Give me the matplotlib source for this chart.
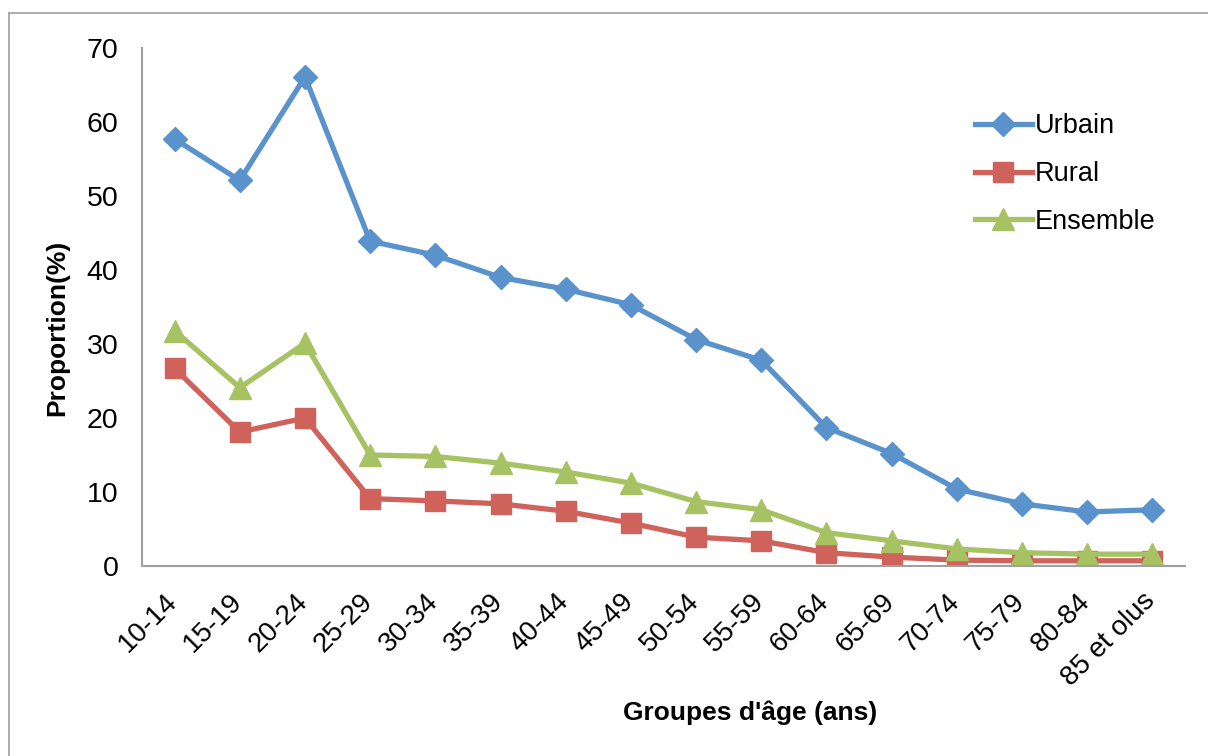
import matplotlib

matplotlib.use('Agg')
import matplotlib.pyplot as plt
from matplotlib.lines import Line2D
from matplotlib.transforms import ScaledTranslation

plt.rcParams['font.family'] = ['Liberation Sans', 'DejaVu Sans']

groupes = ['10-14', '15-19', '20-24', '25-29', '30-34', '35-39', '40-44', '45-49',
           '50-54', '55-59', '60-64', '65-69', '70-74', '75-79', '80-84', '85 et olus']
urbain = [57.7, 52.1, 66.1, 43.9, 42.0, 39.0, 37.4, 35.3,
          30.6, 27.8, 18.7, 15.2, 10.4, 8.4, 7.3, 7.6]
rural = [26.7, 18.1, 20.0, 9.1, 8.8, 8.4, 7.4, 5.8,
         3.9, 3.4, 1.8, 1.2, 0.8, 0.7, 0.7, 0.7]
ensemble = [31.8, 24.1, 30.1, 15.0, 14.8, 13.9, 12.7, 11.2,
            8.7, 7.6, 4.5, 3.4, 2.3, 1.8, 1.6, 1.6]
yticks = [0, 10, 20, 30, 40, 50, 60, 70]

W, H = 1208, 756
fig = plt.figure(figsize=(W / 100, H / 100), dpi=100)
fig.patch.set_facecolor('white')

# cadre extérieur du graphique
fig.add_artist(Line2D([9 / W, 9 / W], [0, 1 - 13 / H], color='#a6a6a6', lw=1.3))
fig.add_artist(Line2D([9 / W, 1], [1 - 13 / H, 1 - 13 / H], color='#a6a6a6', lw=1.3))

ax = fig.add_axes([142 / W, 1 - 566 / H, (1185 - 142) / W, (566 - 48) / H])
x = list(range(len(groupes)))

ax.plot(x, urbain, color='#5A93CC', lw=3.8, marker='D', markersize=12.5, label='Urbain')
ax.plot(x, rural, color='#CF625A', lw=3.8, marker='s', markersize=15, label='Rural')
ax.plot(x, ensemble, color='#A6C263', lw=3.8, marker='^', markersize=16, label='Ensemble')

ax.set_xlim(-0.5, len(groupes) - 0.5)
ax.set_ylim(0, 70)
ax.set_yticks(yticks)
ax.set_yticklabels([str(v) for v in yticks], fontsize=20.5)
ax.set_xticks(x)
ax.set_xticklabels(groupes, rotation=45, ha='right', va='top', fontsize=20)
ax.tick_params(axis='both', length=0)
ax.tick_params(axis='y', pad=17)
ax.tick_params(axis='x', pad=16)
shift = ScaledTranslation(8 / 100, 0, fig.dpi_scale_trans)
for lab in ax.get_xticklabels():
    lab.set_transform(lab.get_transform() + shift)

for s in ['top', 'right']:
    ax.spines[s].set_visible(False)
for s in ['left', 'bottom']:
    ax.spines[s].set_color('#a0a0a0')
    ax.spines[s].set_linewidth(1.5)

fig.text(57 / W, 1 - 328 / H, 'Proportion(%)', rotation=90, fontsize=19,
         fontweight='bold', ha='center', va='center')
fig.text(750 / W, 1 - 713 / H, "Groupes d'âge (ans)", fontsize=19,
         fontweight='bold', ha='center', va='center')

fig.legend(loc='center left', bbox_to_anchor=(975 / W, 1 - 174 / H), frameon=False,
           fontsize=19.5, handlelength=2.1, handletextpad=0.1, labelspacing=0.8,
           borderpad=0, borderaxespad=0)

fig.savefig('out.png', dpi=100, facecolor='white')
